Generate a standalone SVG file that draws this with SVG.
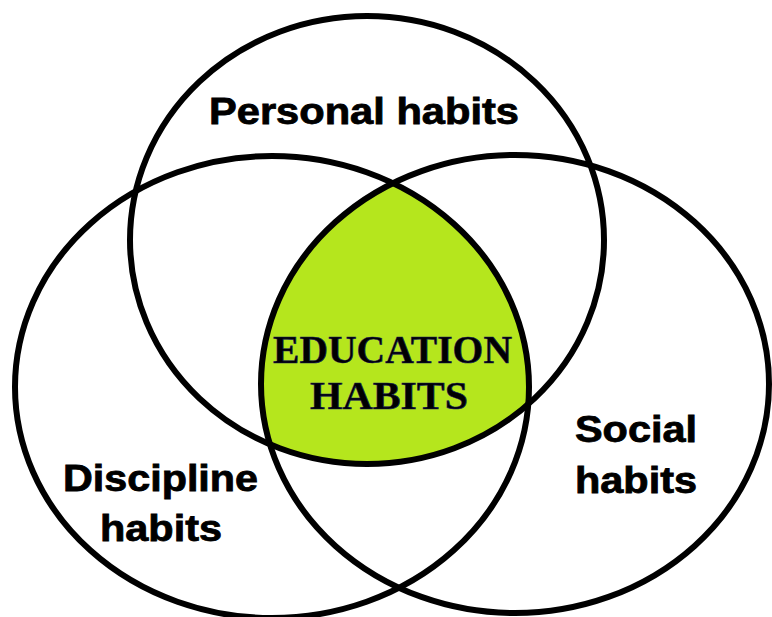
<svg xmlns="http://www.w3.org/2000/svg" width="772" height="617" viewBox="0 0 772 617">
  <style>
    .ring { fill: none; stroke: #000; stroke-width: 6; }
    .lbl { font-family: "Liberation Sans", Arial, sans-serif; font-weight: bold; font-size: 36px; fill: #000; stroke: #000; stroke-width: 0.8; }
    .core { font-family: "Liberation Serif", "Times New Roman", serif; font-weight: bold; font-size: 40px; fill: #000; stroke: #1c1c60; stroke-width: 0.6; }
  </style>
  <defs>
    <clipPath id="clipLeft"><ellipse cx="272" cy="387" rx="257" ry="231"/></clipPath>
    <clipPath id="clipRight"><ellipse cx="515" cy="384" rx="254" ry="229"/></clipPath>
  </defs>
  <rect x="0" y="0" width="772" height="617" fill="#fff"/>

  <g id="education-habits">
    <g clip-path="url(#clipLeft)">
      <ellipse cx="367" cy="240" rx="237" ry="224" fill="#b5e61d" clip-path="url(#clipRight)"/>
    </g>
    <text class="core" x="273" y="363" textLength="239" lengthAdjust="spacingAndGlyphs">EDUCATION</text>
    <text class="core" x="310" y="409" textLength="158" lengthAdjust="spacingAndGlyphs">HABITS</text>
  </g>

  <g id="personal-habits">
    <ellipse class="ring" cx="367" cy="240" rx="237" ry="224"/>
    <text class="lbl" x="209" y="124" textLength="310" lengthAdjust="spacingAndGlyphs">Personal habits</text>
  </g>

  <g id="discipline-habits">
    <ellipse class="ring" cx="272" cy="387" rx="257" ry="231"/>
    <text class="lbl" x="63" y="491" textLength="195" lengthAdjust="spacingAndGlyphs">Discipline</text>
    <text class="lbl" x="100" y="541" textLength="122" lengthAdjust="spacingAndGlyphs">habits</text>
  </g>

  <g id="social-habits">
    <ellipse class="ring" cx="515" cy="384" rx="254" ry="229"/>
    <text class="lbl" x="575" y="442" textLength="122" lengthAdjust="spacingAndGlyphs">Social</text>
    <text class="lbl" x="575" y="493" textLength="122" lengthAdjust="spacingAndGlyphs">habits</text>
  </g>

  <g id="connectors"/>
</svg>
